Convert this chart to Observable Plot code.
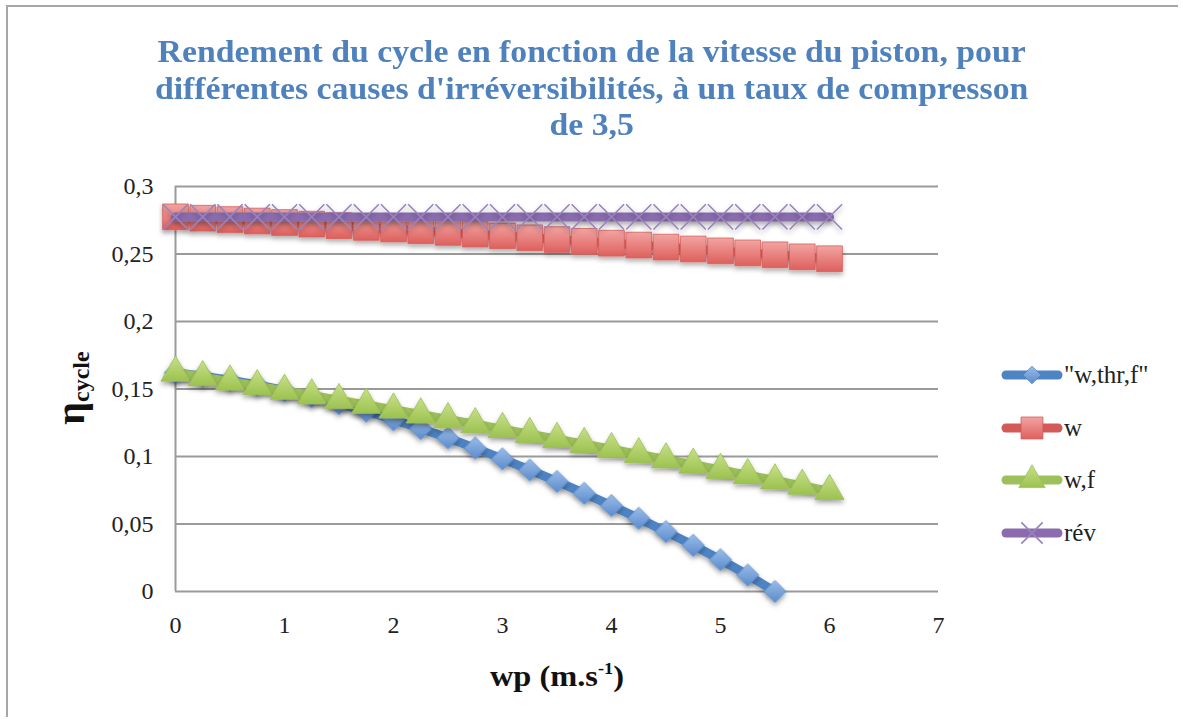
<!DOCTYPE html>
<html>
<head>
<meta charset="utf-8">
<script src="https://cdn.jsdelivr.net/npm/d3@7"></script>
<script src="https://cdn.jsdelivr.net/npm/@observablehq/plot@0.6"></script>
<style>
  html, body { margin: 0; padding: 0; background: #fff; overflow: hidden; }
  #wrap { position: relative; width: 1183px; height: 722px; overflow: hidden; background: #fff; }
  #frame { position: absolute; left: 6px; top: 5px; width: 1170px; height: 710px; border-left: 2px solid #a6a6a6; border-top: 2px solid #a6a6a6; }
  #title { position: absolute; left: 0; top: 0; width: 1183px; height: 150px; box-sizing: border-box; padding-top: 34px;
           text-align: center; font-family: "Liberation Serif", serif; font-weight: bold; font-size: 31px; line-height: 36.5px; color: #4f81bd;
           transform: scaleX(1.09); transform-origin: 590px 0; }
  #chart { position: absolute; left: 0; top: 150px; }
  #ylabel { position: absolute; left: 71px; top: 388px; transform: translate(-50%, -50%) rotate(-90deg); white-space: nowrap;
            font-family: "Liberation Serif", serif; font-weight: bold; font-size: 40px; color: #111; }
  #ylabel sub { font-size: 24px; vertical-align: -0.2em; }
  #xlabel { position: absolute; left: 557px; top: 676px; transform: translate(-50%, -50%) scaleX(1.08); white-space: nowrap;
            font-family: "Liberation Serif", serif; font-weight: bold; font-size: 30px; color: #111; }
  #xlabel sup { font-size: 17px; vertical-align: 0.75em; }
  #legend { position: absolute; left: 1001px; top: 0; font-family: "Liberation Serif", serif; font-size: 25px; color: #222; }
  .lrow { position: absolute; left: 0; display: flex; align-items: center; white-space: nowrap; transform: translateY(-50%); }
  .lrow svg { display: block; margin-right: 1px; }
</style>
</head>
<body>
<div id="wrap">
  <div id="frame"></div>
  <div id="title">Rendement du cycle en fonction de la vitesse du piston, pour<br>différentes causes d'irréversibilités, à un taux de compresson<br>de 3,5</div>
  <div id="chart"></div>
  <div id="ylabel">η<sub>cycle</sub></div>
  <div id="xlabel">wp (m.s<sup>-1</sup>)</div>
  <div id="legend"></div>
</div>
<script>
// ---- data ----
const xTicks = [0, 1, 2, 3, 4, 5, 6, 7];
const yTicks = [0, 0.05, 0.1, 0.15, 0.2, 0.25, 0.3];
const seriesNames = ['"w,thr,f"', "w", "w,f", "rév"];

const wpFull = [0, 0.25, 0.5, 0.75, 1, 1.25, 1.5, 1.75, 2, 2.25, 2.5, 2.75, 3, 3.25, 3.5, 3.75, 4, 4.25, 4.5, 4.75, 5, 5.25, 5.5, 5.75, 6];
const wpThr  = [0, 0.25, 0.5, 0.75, 1, 1.25, 1.5, 1.75, 2, 2.25, 2.5, 2.75, 3, 3.25, 3.5, 3.75, 4, 4.25, 4.5, 4.75, 5, 5.25, 5.5];

const etaWThrF = [0.1620, 0.1595, 0.1565, 0.1530, 0.1490, 0.1445, 0.1392, 0.1335, 0.1272, 0.1207, 0.1137, 0.1062, 0.0982, 0.0900, 0.0815, 0.0727, 0.0636, 0.0542, 0.0443, 0.0342, 0.0235, 0.0122, 0.0000];
const etaW     = [0.2775, 0.2765, 0.2755, 0.2744, 0.2733, 0.2721, 0.2710, 0.2697, 0.2685, 0.2672, 0.2660, 0.2647, 0.2634, 0.2620, 0.2607, 0.2594, 0.2580, 0.2566, 0.2551, 0.2537, 0.2523, 0.2508, 0.2494, 0.2479, 0.2465];
const etaWF    = [0.1620, 0.1587, 0.1554, 0.1520, 0.1486, 0.1452, 0.1417, 0.1382, 0.1347, 0.1311, 0.1275, 0.1239, 0.1203, 0.1166, 0.1129, 0.1092, 0.1054, 0.1016, 0.0978, 0.0939, 0.0900, 0.0861, 0.0822, 0.0783, 0.0744];
const etaRev   = [0.2775, 0.2775, 0.2775, 0.2775, 0.2775, 0.2775, 0.2775, 0.2775, 0.2775, 0.2775, 0.2775, 0.2775, 0.2775, 0.2775, 0.2775, 0.2775, 0.2775, 0.2775, 0.2775, 0.2775, 0.2775, 0.2775, 0.2775, 0.2775, 0.2775];

// ---- build tables ----
const dThr = wpThr.map((x, i) => ({x, y: etaWThrF[i]}));
const dW   = wpFull.map((x, i) => ({x, y: etaW[i]}));
const dWF  = wpFull.map((x, i) => ({x, y: etaWF[i]}));
const dRev = wpFull.map((x, i) => ({x, y: etaRev[i]}));

const col = {
  blue:   {line: "#4f84c4", fill: "#6d9bd6"},
  red:    {line: "#d35a57", fill: "#e2706d"},
  green:  {line: "#9dc05a", fill: "#a9ca62"},
  purple: {line: "#8a6cae", fill: "#8a6cae"}
};
const fmt = v => v === 0 ? "0" : String(+v.toFixed(2)).replace(".", ",");

const plot = Plot.plot({
  width: 1183,
  height: 572,
  marginLeft: 175,
  marginRight: 245,
  marginTop: 36,
  marginBottom: 131,
  x: {domain: [0, 7], ticks: xTicks, tickFormat: d => String(d)},
  y: {domain: [0, 0.3], ticks: yTicks, tickFormat: fmt},
  style: {fontFamily: "Liberation Serif, serif", fontSize: "24px", color: "#222", background: "transparent", overflow: "visible"},
  marks: [
    Plot.ruleY(yTicks, {x1: 0, x2: 7, stroke: "#9a9a9a", strokeWidth: 2}),
    Plot.ruleX([0], {y1: 0, y2: 0.3, stroke: "#9a9a9a", strokeWidth: 2}),
    Plot.axisX({ticks: xTicks, tickSize: 0, tickPadding: 24, tickFormat: d => String(d), label: null, fontSize: 24}),
    Plot.axisY({ticks: yTicks, tickSize: 0, tickPadding: 22, tickFormat: fmt, label: null, fontSize: 24}),

    Plot.line(dThr, {x: "x", y: "y", stroke: col.blue.line, strokeWidth: 9, strokeLinecap: "round"}),
    Plot.dot(dThr, {x: "x", y: "y", symbol: "diamond2", r: 10, fill: col.blue.fill, stroke: "#5a8ccc", strokeWidth: 0.8}),

    Plot.line(dW, {x: "x", y: "y", stroke: col.red.line, strokeWidth: 9, strokeLinecap: "round"}),
    Plot.dot(dW, {x: "x", y: "y", symbol: "square", r: 14.5, fill: col.red.fill, stroke: "#d55f5c", strokeWidth: 0.8}),

    Plot.line(dWF, {x: "x", y: "y", stroke: col.green.line, strokeWidth: 9, strokeLinecap: "round"}),
    Plot.dot(dWF, {x: "x", y: "y", symbol: "triangle", r: 10.8, fill: col.green.fill, stroke: "#9cbf55", strokeWidth: 0.8}),

    Plot.line(dRev, {x: "x", y: "y", stroke: col.purple.line, strokeWidth: 9, strokeLinecap: "round"}),
    Plot.dot(dRev, {x: "x", y: "y", symbol: "times", r: 11.5, stroke: "#9a82bd", strokeWidth: 1.6})
  ]
});
document.getElementById("chart").appendChild(plot);

// ---- gradients & shadows (styling only) ----
const svgNS = "http://www.w3.org/2000/svg";
const defs = document.createElementNS(svgNS, "defs");
defs.innerHTML = `
  <filter id="shadow" filterUnits="userSpaceOnUse" x="0" y="0" width="1183" height="572">
    <feDropShadow dx="0" dy="3" stdDeviation="2.4" flood-color="#000" flood-opacity="0.32"/>
  </filter>
  <linearGradient id="gBlue" x1="0" y1="0" x2="0" y2="1"><stop offset="0" stop-color="#9bbde8"/><stop offset="1" stop-color="#5a8bcd"/></linearGradient>
  <linearGradient id="gRed" x1="0" y1="0" x2="0" y2="1"><stop offset="0" stop-color="#f2a4a2"/><stop offset="1" stop-color="#de605d"/></linearGradient>
  <linearGradient id="gGreen" x1="0" y1="0" x2="0" y2="1"><stop offset="0" stop-color="#c8e08a"/><stop offset="1" stop-color="#9cc24f"/></linearGradient>`;
plot.insertBefore(defs, plot.firstChild);
const lineGroups = plot.querySelectorAll('g[aria-label="line"]');
const dotGroups = plot.querySelectorAll('g[aria-label="dot"]');
const grads = ["url(#gBlue)", "url(#gRed)", "url(#gGreen)", null];
lineGroups.forEach(g => g.setAttribute("filter", "url(#shadow)"));
dotGroups.forEach((g, i) => {
  g.setAttribute("filter", "url(#shadow)");
  if (grads[i]) {
    g.setAttribute("fill", grads[i]);
    g.querySelectorAll("path").forEach(p => p.setAttribute("fill", grads[i]));
  }
});

// ---- legend ----
const legendItems = [
  {name: seriesNames[0], c: col.blue.line, sym: d3.symbolDiamond2, size: 200, fill: "url(#gBlueL)", y: 375},
  {name: seriesNames[1], c: col.red.line, sym: d3.symbolSquare, size: 480, fill: "url(#gRedL)", y: 428},
  {name: seriesNames[2], c: col.green.line, sym: d3.symbolTriangle, size: 300, fill: "url(#gGreenL)", y: 480},
  {name: seriesNames[3], c: col.purple.line, sym: d3.symbolTimes, size: 300, fill: "none", y: 533}
];
const leg = document.getElementById("legend");
legendItems.forEach((it, i) => {
  const row = document.createElement("div");
  row.className = "lrow";
  row.style.top = it.y + "px";
  const s = d3.create("svg").attr("width", 62).attr("height", 32);
  if (i === 0) {
    s.append("defs").html(`
      <linearGradient id="gBlueL" x1="0" y1="0" x2="0" y2="1"><stop offset="0" stop-color="#9bbde8"/><stop offset="1" stop-color="#5a8bcd"/></linearGradient>
      <linearGradient id="gRedL" x1="0" y1="0" x2="0" y2="1"><stop offset="0" stop-color="#f2a4a2"/><stop offset="1" stop-color="#de605d"/></linearGradient>
      <linearGradient id="gGreenL" x1="0" y1="0" x2="0" y2="1"><stop offset="0" stop-color="#c8e08a"/><stop offset="1" stop-color="#9cc24f"/></linearGradient>`);
  }
  s.append("line").attr("x1", 5).attr("x2", 57).attr("y1", 16).attr("y2", 16)
    .attr("stroke", it.c).attr("stroke-width", 9).attr("stroke-linecap", "round");
  const p = s.append("path").attr("transform", "translate(31,16)").attr("d", d3.symbol(it.sym, it.size)());
  if (it.fill === "none") p.attr("fill", "none").attr("stroke", "#9a82bd").attr("stroke-width", 1.6);
  else p.attr("fill", it.fill).attr("stroke", it.c).attr("stroke-width", 0.8);
  row.appendChild(s.node());
  const t = document.createElement("span");
  t.textContent = it.name;
  row.appendChild(t);
  leg.appendChild(row);
});
</script>
</body>
</html>
